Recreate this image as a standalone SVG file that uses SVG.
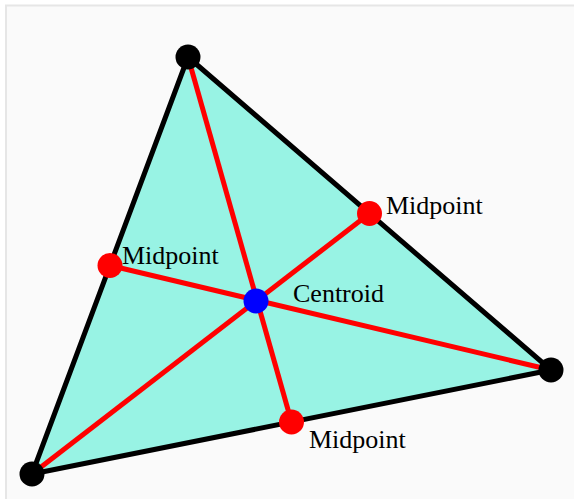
<svg xmlns="http://www.w3.org/2000/svg" width="574" height="499" viewBox="0 0 574 499">
  <style>
    .bg { fill: #fafafa; stroke: #e6e6e6; stroke-width: 2; }
    .tri { fill: #98f3e4; stroke: #000; stroke-width: 5; stroke-linejoin: round; }
    .median { stroke: #ff0000; stroke-width: 5; fill: none; }
    .vertex { fill: #000; }
    .mid { fill: #ff0000; }
    .cen { fill: #0000ff; }
    .lbl { font-family: "Liberation Serif", "Times New Roman", serif; font-size: 26px; fill: #000; }
  </style>
  <rect class="bg" x="6" y="5.5" width="580" height="510"/>
  <g id="triangle">
    <polygon class="tri" points="188,57 551,370 32,474"/>
  </g>
  <g id="connectors">
    <line class="median" x1="188" y1="57" x2="291.5" y2="422"/>
    <line class="median" x1="551" y1="370" x2="110" y2="265.5"/>
    <line class="median" x1="32" y1="474" x2="369.5" y2="213.5"/>
  </g>
  <g id="vertexA"><circle class="vertex" cx="188" cy="57" r="12.5"/></g>
  <g id="vertexB"><circle class="vertex" cx="551" cy="370" r="12.5"/></g>
  <g id="vertexC"><circle class="vertex" cx="32" cy="474" r="12.5"/></g>
  <g id="midAB">
    <circle class="mid" cx="369.5" cy="213.5" r="12.5"/>
    <text class="lbl" x="386" y="214">Midpoint</text>
  </g>
  <g id="midAC">
    <circle class="mid" cx="110" cy="265.5" r="12.5"/>
    <text class="lbl" x="122" y="264">Midpoint</text>
  </g>
  <g id="midBC">
    <circle class="mid" cx="291.5" cy="422" r="12.5"/>
    <text class="lbl" x="309" y="448">Midpoint</text>
  </g>
  <g id="centroid">
    <circle class="cen" cx="256" cy="301" r="12.5"/>
    <text class="lbl" x="293" y="302">Centroid</text>
  </g>
</svg>
